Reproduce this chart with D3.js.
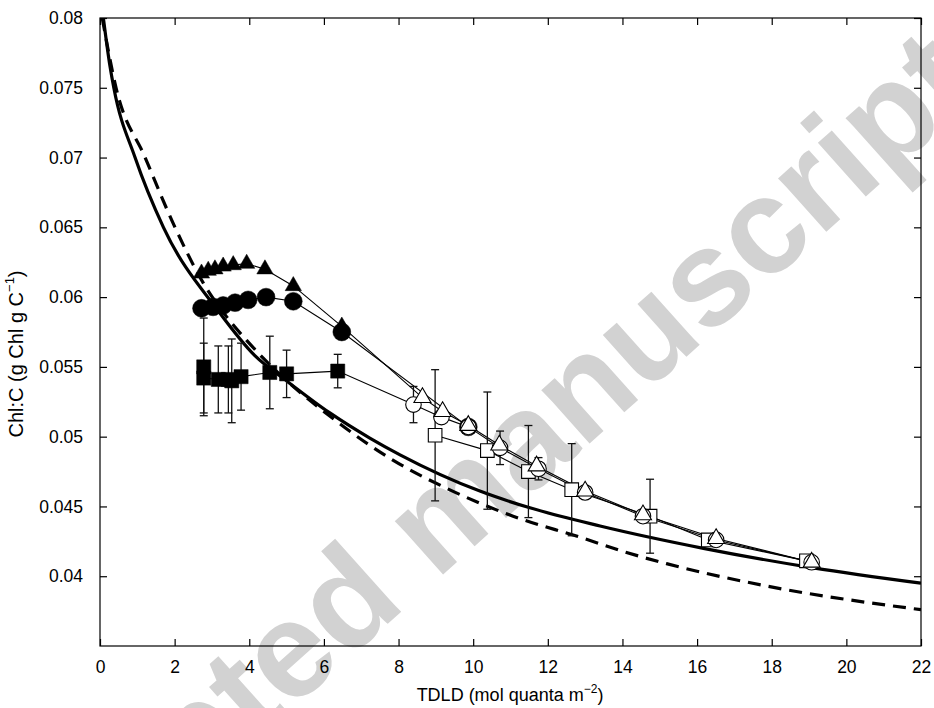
<!DOCTYPE html>
<html><head><meta charset="utf-8">
<script src="https://cdn.jsdelivr.net/npm/d3@7"></script>
<style>
body{margin:0;background:#fff}
svg{display:block}
text{font-family:"Liberation Sans",Arial,Helvetica,sans-serif;fill:#000}
</style>
</head><body>
<svg id="chart" width="934" height="708"></svg>
<script>
// ---------- axis ticks ----------
const xTicks = [0,2,4,6,8,10,12,14,16,18,20,22];
const yTicks = [0.04,0.045,0.05,0.055,0.06,0.065,0.07,0.075,0.08];
const yTickLabels = ["0.04","0.045","0.05","0.055","0.06","0.065","0.07","0.075","0.08"];

// ---------- model curves ----------
const solidX = [0.09,0.27,0.37,0.94,1.70,3.17,4.15,5.0,6.16,7.23,8.04,10.18,11.52,13.4,16.17,19.11,22];
const solidY = [0.0800,0.0765,0.0750,0.0700,0.0650,0.0590,0.0558,0.0540,0.0517,0.0499,0.0487,0.0461,0.0449,0.0436,0.0420,0.0406,0.0395];
const dashX = [0.06,0.43,1.21,2.01,2.77,3.39,3.93,4.42,6.34,7.86,9.29,11.07,12.86,14.11,15.18,17.86,22];
const dashY = [0.0800,0.0750,0.0700,0.0650,0.0610,0.0586,0.0569,0.0555,0.0511,0.0483,0.0463,0.0443,0.0428,0.0417,0.0409,0.0393,0.0376];

// ---------- filled symbols ----------
const fTriX = [2.72,2.90,3.08,3.30,3.57,3.93,4.42,5.18,6.48];
const fTriY = [0.0617,0.0619,0.0620,0.0622,0.0623,0.0624,0.0620,0.0608,0.0579];
const fCircX = [2.72,3.03,3.30,3.62,3.97,4.45,5.18,6.48,9.87];
const fCircY = [0.0592,0.0593,0.0594,0.0596,0.0598,0.0600,0.0597,0.0575,0.0507];
const fSqX = [2.78,2.78,3.17,3.44,3.53,3.78,4.55,5.00,6.37];
const fSqY = [0.0550,0.0542,0.0541,0.0541,0.0540,0.0543,0.0546,0.0545,0.0547];
const fSqErr = [0.0035,0.0025,0.0024,0.0024,0.0030,0.0024,0.0026,0.0017,0.0012];

// ---------- open symbols ----------
const oTriX = [8.64,9.18,9.87,10.70,11.70,13.0,14.55,16.51,19.07];
const oTriY = [0.0528,0.0518,0.0508,0.0494,0.0479,0.0461,0.0444,0.0427,0.0410];
const oCircX = [8.40,9.15,9.87,10.72,11.75,13.0,14.55,16.51,19.07];
const oCircY = [0.0523,0.0514,0.0507,0.0492,0.0477,0.0460,0.0443,0.0426,0.0410];
const oCircErr = [0.0013,0,0,0.0012,0.0008,0,0,0,0];
const oSqX = [8.98,10.38,11.48,12.64,14.74,16.30,18.93];
const oSqY = [0.0501,0.0490,0.0475,0.0462,0.0443,0.0426,0.0411];
const oSqErr = [0.0047,0.0042,0.0033,0.0033,0.00265,0,0];

const zip = (xs, ys, es) => xs.map((v, i) => ({x: v, y: ys[i], e: es ? es[i] : 0}));

const svg = d3.select("#chart");
const xS = d3.scaleLinear().domain([0, 22]).range([100, 921]);
const yS = d3.scaleLinear().domain([0.035, 0.08]).range([646, 18]);

// watermark (runs off the page edge, as in the reference)
svg.append("text")
  .attr("transform", "translate(467,553) rotate(-41.8)")
  .attr("text-anchor", "middle")
  .style("font-size", "136px").style("font-weight", "bold")
  .style("fill", "#d2d2d2")
  .text("Accepted manuscript");

const plot = svg.append("g");
plot.append("clipPath").attr("id", "clip").append("rect")
  .attr("x", 100).attr("y", 18).attr("width", 821).attr("height", 628);

const curveGen = d3.line().x(d => xS(d.x)).y(d => yS(d.y)).curve(d3.curveMonotoneX);
const cg = plot.append("g").attr("clip-path", "url(#clip)");
cg.append("path").datum(zip(solidX, solidY)).attr("d", curveGen)
  .attr("fill", "none").attr("stroke", "#000").attr("stroke-width", 3.2);
cg.append("path").datum(zip(dashX, dashY)).attr("d", curveGen)
  .attr("fill", "none").attr("stroke", "#000").attr("stroke-width", 3.2)
  .attr("stroke-dasharray", "13,8");

// series connecting lines
const lin = d3.line().x(d => xS(d.x)).y(d => yS(d.y));
const thin = (data) => plot.append("path").datum(data).attr("d", lin)
  .attr("fill", "none").attr("stroke", "#000").attr("stroke-width", 1.1);
thin(zip(fTriX, fTriY).concat(zip(oTriX, oTriY)));
thin(zip(fCircX, fCircY));
thin(zip(fSqX, fSqY).concat(zip(oCircX, oCircY)));
thin(zip(oSqX, oSqY));

// error bars
function errBars(data) {
  const g = plot.append("g").attr("stroke", "#111").attr("stroke-width", 1.3);
  data.filter(d => d.e > 0).forEach(d => {
    const cx = xS(d.x), y1 = yS(d.y + d.e), y2 = yS(d.y - d.e);
    g.append("line").attr("x1", cx).attr("x2", cx).attr("y1", y1).attr("y2", y2);
    g.append("line").attr("x1", cx - 4).attr("x2", cx + 4).attr("y1", y1).attr("y2", y1);
    g.append("line").attr("x1", cx - 4).attr("x2", cx + 4).attr("y1", y2).attr("y2", y2);
  });
}
errBars(zip(fSqX, fSqY, fSqErr));
errBars(zip(oSqX, oSqY, oSqErr));
errBars(zip(oCircX, oCircY, oCircErr));

// markers
function markers(data, type, size, filled) {
  plot.append("g").selectAll("path").data(data).join("path")
    .attr("transform", d => `translate(${xS(d.x)},${yS(d.y)})`)
    .attr("d", d3.symbol().type(type).size(size))
    .attr("fill", filled ? "#000" : "#fff")
    .attr("stroke", "#000").attr("stroke-width", filled ? 0.5 : 1.1);
}
markers(zip(fSqX, fSqY), d3.symbolSquare, 200, true);
markers(zip(fTriX, fTriY), d3.symbolTriangle, 115, true);
markers(zip(fCircX, fCircY), d3.symbolCircle, 250, true);
markers(zip(oSqX, oSqY), d3.symbolSquare, 185, false);
markers(zip(oCircX, oCircY), d3.symbolCircle, 190, false);
markers(zip(oTriX, oTriY), d3.symbolTriangle, 125, false);

// axes box
const axG = svg.append("g");
axG.append("rect").attr("x", 100).attr("y", 18).attr("width", 821).attr("height", 628)
  .attr("fill", "none").attr("stroke", "#000").attr("stroke-width", 1.2);
const tl = 7;
const axB = d3.axisBottom(xS).tickValues(xTicks).tickSize(-tl).tickPadding(tl + 8).tickFormat(d3.format("d"));
const axT = d3.axisTop(xS).tickValues(xTicks).tickSize(-tl).tickFormat("");
const axL = d3.axisLeft(yS).tickValues(yTicks).tickSize(-tl).tickPadding(tl + 10).tickFormat((d, i) => yTickLabels[i]);
const axR = d3.axisRight(yS).tickValues(yTicks).tickSize(-tl).tickFormat("");
function styleAx(g) {
  g.select(".domain").remove();
  g.selectAll(".tick line").attr("stroke", "#000").attr("stroke-width", 1.2);
  g.selectAll(".tick text").style("font-size", "17.5px").attr("fill", "#000");
}
axG.append("g").attr("transform", "translate(0,646)").call(axB).call(styleAx);
axG.append("g").attr("transform", "translate(0,18)").call(axT).call(styleAx);
axG.append("g").attr("transform", "translate(100,0)").call(axL).call(styleAx);
axG.append("g").attr("transform", "translate(921,0)").call(axR).call(styleAx);

// axis titles
const xt = svg.append("text").attr("x", 510).attr("y", 701).attr("text-anchor", "middle").style("font-size", "18px");
xt.append("tspan").text("TDLD (mol quanta m");
xt.append("tspan").attr("dy", -8).style("font-size", "12px").text("\u22122");
xt.append("tspan").attr("dy", 8).text(")");

const yt = svg.append("text").attr("transform", "translate(23,354) rotate(-90)").attr("text-anchor", "middle").style("font-size", "20px");
yt.append("tspan").text("Chl:C (g Chl g C");
yt.append("tspan").attr("dy", -9).style("font-size", "13px").text("\u22121");
yt.append("tspan").attr("dy", 9).text(")");
</script>
</body></html>
